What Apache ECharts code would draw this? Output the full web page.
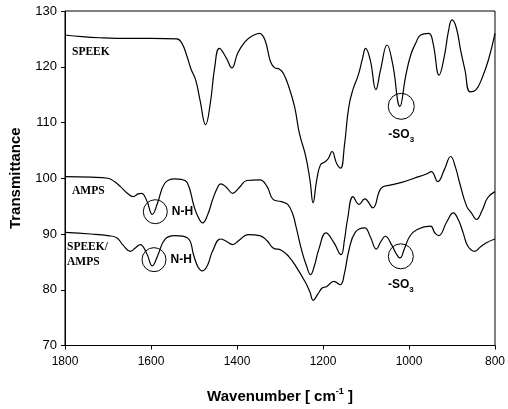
<!DOCTYPE html>
<html><head><meta charset="utf-8">
<script src="https://cdn.jsdelivr.net/npm/echarts/dist/echarts.min.js"></script>
<style>html,body{margin:0;padding:0;background:#fff}#c{width:508px;height:409px}</style>
</head><body><div id="c"></div>
<script>
// ---- data ----
const xTicks = [800, 1000, 1200, 1400, 1600, 1800];
const yTicks = [70, 80, 90, 100, 110, 120, 130];

const speekWn = [1800,1760,1720,1680,1600,1540,1528,1516,1507,1496,1486,1473,1462,1452,1441,1425,1412,1398,1381,1365,1348,1335,1322,1312,1302,1292,1280,1266,1255,1240,1230,1223,1215,1206,1196,1188,1179,1168,1159,1150,1140,1130,1118,1108,1101,1090,1077,1066,1051,1038,1021,1008,996,984,973,954,944,930,918,908,900,890,880,870,858,845,830,815,800];
const speekT  = [125.7,125.4,125.2,125.1,125.1,125.0,124.2,121.8,119.6,117.6,114.0,109.6,113.5,119.8,123.3,121.6,119.8,122.5,124.5,125.5,126.0,124.8,120.9,119.8,119.6,118.8,116.5,112.8,108.1,103.9,99.5,95.6,99.5,102.4,102.9,103.5,104.8,102.6,101.8,106.0,112.8,116.0,118.5,121.5,123.3,121.2,115.9,119.5,123.9,120.5,112.9,118.2,122.1,124.3,125.7,126.0,124.2,118.5,121.8,126.5,128.4,127.0,123.0,119.5,115.5,115.8,118.0,121.3,126.0];

const ampsWn = [1800,1740,1700,1685,1671,1655,1641,1630,1622,1610,1597,1585,1568,1545,1530,1515,1500,1490,1480,1468,1457,1445,1438,1425,1410,1395,1377,1347,1330,1316,1297,1282,1270,1263,1248,1238,1229,1220,1210,1193,1175,1158,1150,1143,1130,1116,1103,1084,1065,1042,1015,988,958,948,933,918,903,892,882,866,855,843,830,817,800];
const ampsT  = [100.3,100.2,100.0,99.4,98.5,97.3,96.7,97.2,97.3,96.0,93.5,95.5,99.1,99.9,99.8,99.1,95.0,93.0,92.0,93.5,96.1,98.4,99.0,98.4,97.3,98.3,99.6,99.7,98.5,96.2,95.8,95.3,93.5,91.4,86.6,84.2,82.7,84.3,87.2,90.2,88.5,86.3,89.0,92.6,96.7,95.3,96.3,94.7,98.2,98.8,99.3,100.0,100.8,101.2,99.4,101.5,103.9,102.0,99.1,95.0,93.8,92.6,94.2,96.5,97.6];

const blendWn = [1800,1740,1700,1679,1665,1648,1635,1625,1610,1597,1585,1568,1545,1515,1500,1490,1480,1468,1457,1438,1425,1410,1395,1374,1347,1330,1316,1297,1280,1263,1240,1230,1223,1212,1202,1191,1175,1160,1150,1140,1125,1103,1090,1076,1065,1055,1040,1030,1021,1010,998,981,950,940,931,912,897,885,874,863,847,835,821,800];
const blendT  = [90.3,90.0,89.7,89.3,88.0,86.9,87.6,88.1,86.5,84.3,86.0,89.0,89.7,89.3,86.0,84.0,83.4,84.5,86.9,89.1,88.7,88.1,88.9,89.9,89.7,88.8,87.5,87.1,86.0,84.2,81.2,79.5,78.1,79.2,80.3,80.6,81.5,80.9,83.0,87.0,90.3,91.1,89.5,87.3,88.7,89.6,88.0,86.5,85.7,87.5,89.6,90.8,91.4,90.2,89.7,92.2,93.8,92.5,90.2,87.8,86.9,87.6,88.4,89.1];

// annotation circles: [wavenumber, transmittance]
const nhSpots  = [[1590, 94.0], [1593, 85.4]];
const so3Spots = [[1018, 112.9], [1019, 86.0]];

// ---- chart ----
const chart = echarts.init(document.getElementById('c'), null, {renderer: 'canvas'});
const pairs = (w, t) => w.map((v, i) => [v, t[i]]);
const lineStyle = {color: '#000', width: 1.2};
const SMOOTH = 0.45;

const nhLabel = {show: true, position: 'right', distance: 4, formatter: 'N-H',
  color: '#000', fontFamily: 'Liberation Sans', fontWeight: 'bold', fontSize: 12};
const so3Label = {show: true, position: 'bottom', distance: 5, formatter: '{n|-SO}{s|3}',
  rich: {
    n: {color: '#000', fontFamily: 'Liberation Sans', fontWeight: 'bold', fontSize: 12, lineHeight: 16, verticalAlign: 'bottom'},
    s: {color: '#000', fontFamily: 'Liberation Sans', fontWeight: 'bold', fontSize: 8, lineHeight: 16, verticalAlign: 'bottom', padding: [0,0,-3,0]}
  }};
const ringStyle = {color: 'rgba(0,0,0,0)', borderColor: '#000', borderWidth: 1};

const seriesLabel = (text, x, y) => ({
  type: 'text', left: x, top: y,
  style: {text: text, fill: '#000', font: 'bold 11.5px "Liberation Serif"'}
});

chart.setOption({
  animation: false,
  backgroundColor: '#fff',
  grid: {left: 62, right: 9.5, top: 11, bottom: 63, show: true, borderColor: '#000', borderWidth: 1},
  xAxis: {
    type: 'value', min: xTicks[0], max: xTicks[xTicks.length - 1], interval: 200, inverse: true,
    axisLine: {show: true, lineStyle: {color: '#000', width: 1}},
    axisTick: {show: true, inside: false, length: 4, lineStyle: {color: '#000'}},
    axisLabel: {color: '#000', fontFamily: 'Liberation Sans', fontSize: 12, margin: 10, formatter: v => String(v)},
    splitLine: {show: false},
    name: '{b|Wavenumber [ cm}{sup|-1}{b| ]}',
    nameLocation: 'middle', nameGap: 42,
    nameTextStyle: {
      rich: {
        b: {color: '#000', fontFamily: 'Liberation Sans', fontWeight: 'bold', fontSize: 15, lineHeight: 18},
        sup: {color: '#000', fontFamily: 'Liberation Sans', fontWeight: 'bold', fontSize: 9, lineHeight: 18, verticalAlign: 'top'}
      }
    }
  },
  yAxis: {
    type: 'value', min: yTicks[0], max: yTicks[yTicks.length - 1], interval: 10,
    axisLine: {show: true, lineStyle: {color: '#000', width: 1}},
    axisTick: {show: true, inside: false, length: 4, lineStyle: {color: '#000'}},
    axisLabel: {color: '#000', fontFamily: 'Liberation Sans', fontSize: 13, margin: 8, formatter: v => String(v)},
    splitLine: {show: false},
    name: 'Transmittance', nameLocation: 'middle', nameGap: 42, nameRotate: 90,
    nameTextStyle: {color: '#000', fontFamily: 'Liberation Sans', fontWeight: 'bold', fontSize: 15}
  },
  series: [
    {name: 'SPEEK', type: 'line', data: pairs(speekWn, speekT), showSymbol: false, symbol: 'none', smooth: SMOOTH, lineStyle,
     markPoint: {symbol: 'circle', silent: true, itemStyle: ringStyle,
       data: [{coord: so3Spots[0], symbolSize: 26, label: so3Label}]}},
    {name: 'AMPS', type: 'line', data: pairs(ampsWn, ampsT), showSymbol: false, symbol: 'none', smooth: SMOOTH, lineStyle,
     markPoint: {symbol: 'circle', silent: true, itemStyle: ringStyle,
       data: [{coord: nhSpots[0], symbolSize: 24, label: nhLabel}]}},
    {name: 'SPEEK/AMPS', type: 'line', data: pairs(blendWn, blendT), showSymbol: false, symbol: 'none', smooth: SMOOTH, lineStyle,
     markPoint: {symbol: 'circle', silent: true, itemStyle: ringStyle,
       data: [
         {coord: nhSpots[1], symbolSize: 24, label: nhLabel},
         {coord: so3Spots[1], symbolSize: 25, label: so3Label}
       ]}}
  ],
  graphic: [
    seriesLabel('SPEEK', 72, 46),
    seriesLabel('AMPS', 72, 185),
    seriesLabel('SPEEK/', 67, 241),
    seriesLabel('AMPS', 67, 256)
  ]
});
</script></body></html>
